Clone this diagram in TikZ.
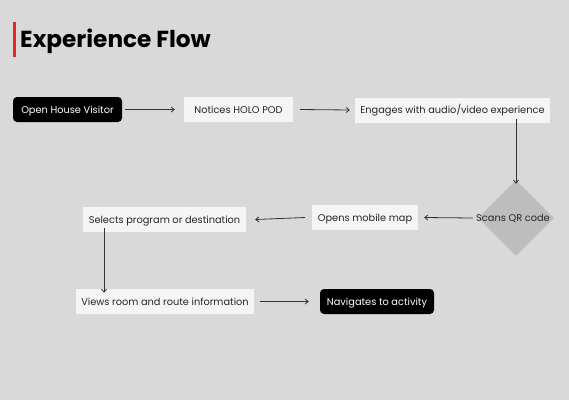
\documentclass[tikz,border=0pt]{standalone}
\usepackage{fontspec}
\setmainfont{Poppins}
\usetikzlibrary{shapes.geometric,arrows.meta}
\definecolor{bg}{HTML}{D9D9D9}
\definecolor{boxfill}{HTML}{F5F5F5}
\definecolor{diafill}{HTML}{BDBDBD}
\definecolor{arrowc}{HTML}{333333}
\definecolor{titlered}{HTML}{E0262B}
\tikzset{
  lightbox/.style={fill=boxfill, minimum height=25pt, inner xsep=0pt, text height=7pt, text depth=0pt, font=\fontsize{9.8}{11}\selectfont, text=black!85},
  darkbox/.style={fill=black, rounded corners=4pt, minimum height=25pt, inner xsep=0pt, text height=7pt, text depth=0pt, font=\fontsize{9.8}{11}\selectfont, text=white},
  flow/.style={draw=arrowc, line width=0.8pt, -{Straight Barb[length=3pt,width=5pt]}},
}
\begin{document}
\begin{tikzpicture}[x=1pt,y=-1pt]
\fill[bg] (0,0) rectangle (569,400);
\useasboundingbox (0,0) rectangle (569,400);
\fill[titlered] (13,22) rectangle (15.5,57);
\node[anchor=base west, inner sep=0pt, font=\fontsize{23.2}{27}\selectfont\bfseries] (title) at (20,47) {Experience Flow};

\node[darkbox, minimum width=109pt] (visitor) at (67.5,109.5) {Open House Visitor};
\node[lightbox, minimum width=109pt] (notices) at (238.5,109.5) {Notices HOLO POD};
\node[lightbox, minimum width=195pt] (engages) at (452.5,110) {Engages with audio/video experience};
\node[diamond, fill=diafill, minimum width=76pt, minimum height=76pt, inner sep=0pt] (scans) at (516,218) {};
\node[font=\fontsize{9.8}{11}\selectfont, text=black!85, inner sep=0pt, text height=7pt, text depth=0pt] (scanstext) at (513,218) {Scans QR code};
\node[lightbox, minimum width=106pt] (opens) at (365,217.5) {Opens mobile map};
\node[lightbox, minimum width=163pt] (selects) at (164.5,219.5) {Selects program or destination};
\node[lightbox, minimum width=178pt] (views) at (165,301.5) {Views room and route information};
\node[darkbox, minimum width=114pt] (navigates) at (377,301.5) {Navigates to activity};

\draw[flow] ([xshift=3pt]visitor.east) -- ([xshift=-9pt]notices.west);
\draw[flow] ([xshift=7pt]notices.east) -- ([xshift=-5pt]engages.west);
\draw[flow] ([xshift=63.5pt,yshift=4pt]engages.south) -- ([yshift=-4pt]scans.north);
\draw[flow] ([xshift=-5pt]scans.west) -- ([xshift=6pt]opens.east);
\draw[flow] ([xshift=-7pt]opens.west) -- ([xshift=9pt]selects.east);
\draw[flow] ([xshift=-60.5pt,yshift=4pt]selects.south) -- ([xshift=-61pt,yshift=-4pt]views.north);
\draw[flow] ([xshift=6pt]views.east) -- ([xshift=-11pt]navigates.west);
\end{tikzpicture}
\end{document}
